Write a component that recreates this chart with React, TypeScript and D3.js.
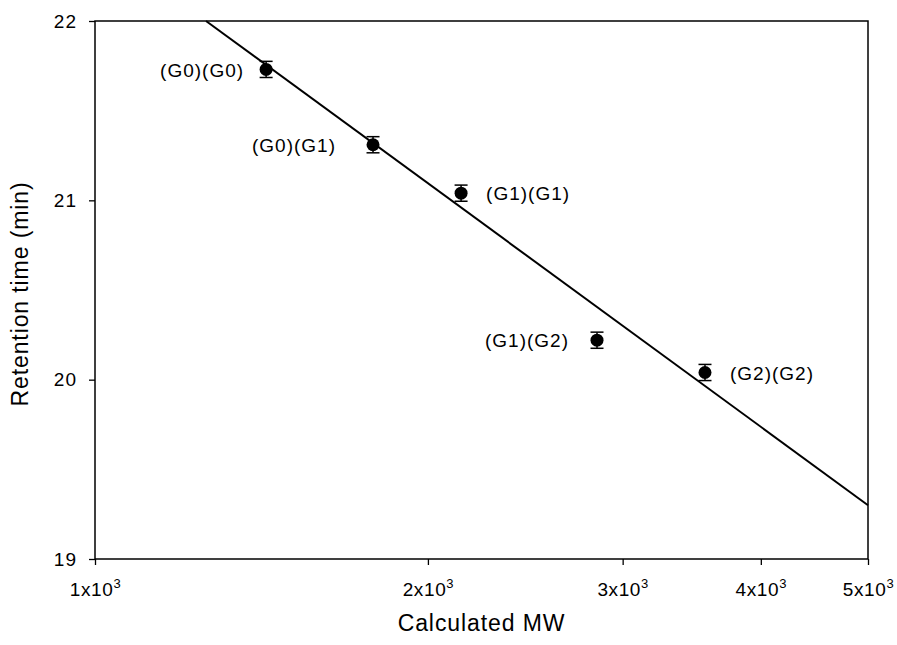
import { useEffect, useRef } from "react"
import * as d3 from "d3"

const labels = ["(G0)(G0)", "(G0)(G1)", "(G1)(G1)", "(G1)(G2)", "(G2)(G2)"]
const mw = [1428, 1784, 2143, 2844, 3561]
const retention = [21.73, 21.31, 21.04, 20.22, 20.04]
const errors = [0.045, 0.045, 0.045, 0.045, 0.045]
// label offset from the point (negative = to the left)
const labelDx = [-22, -37, 25, -28, 25]

const fitMw = [1260, 5000]
const fitRt = [22, 19.3]

const xTicks = [1000, 2000, 3000, 4000, 5000]
const yTicks = [19, 20, 21, 22]

export default function App() {
  const svgRef = useRef<SVGSVGElement>(null)

  useEffect(() => {
    if (!svgRef.current) return
    const width = 897
    const height = 645
    const margin = { top: 21, right: 29, bottom: 86, left: 95 }
    const w = width - margin.left - margin.right
    const h = height - margin.top - margin.bottom

    d3.select(svgRef.current).selectAll("*").remove()

    const svg = d3
      .select(svgRef.current)
      .attr("width", width)
      .attr("height", height)
      .style("font-family", "'Liberation Sans', Arial, sans-serif")

    const g = svg.append("g").attr("transform", `translate(${margin.left},${margin.top})`)

    const x = d3.scaleLog().domain([1000, 5000]).range([0, w])
    const y = d3.scaleLinear().domain([19, 22]).range([h, 0])

    // frame
    g.append("rect")
      .attr("width", w)
      .attr("height", h)
      .attr("fill", "none")
      .attr("stroke", "#000")
      .attr("stroke-width", 1.5)

    // x axis
    const xAxis = g
      .append("g")
      .attr("transform", `translate(0,${h})`)
      .call(d3.axisBottom(x).tickValues(xTicks).tickSize(6).tickFormat(() => ""))
    xAxis.select(".domain").remove()
    xAxis.selectAll("line").attr("stroke-width", 1.3)
    xAxis
      .selectAll(".tick")
      .append("text")
      .attr("y", 37)
      .attr("fill", "#000")
      .attr("text-anchor", "middle")
      .style("font-size", "19px")
      .style("letter-spacing", "0.6px")
      .each(function (d) {
        const t = d3.select(this)
        const mant = Math.round((d as number) / 1000)
        t.append("tspan").text(`${mant}x10`)
        t.append("tspan").attr("dy", -8).style("font-size", "13px").text("3")
      })

    // y axis
    const yAxis = g
      .append("g")
      .call(d3.axisLeft(y).tickValues(yTicks).tickSize(6).tickPadding(12).tickFormat(d3.format("d")))
    yAxis.select(".domain").remove()
    yAxis.selectAll("line").attr("stroke-width", 1.3)
    yAxis
      .selectAll("text")
      .style("font-size", "19px")
      .style("letter-spacing", "1px")
      .attr("fill", "#000")

    // axis titles
    svg
      .append("text")
      .attr("x", margin.left + w / 2)
      .attr("y", 631)
      .attr("text-anchor", "middle")
      .style("font-size", "23px")
      .style("letter-spacing", "0.9px")
      .text("Calculated MW")

    svg
      .append("text")
      .attr("transform", `translate(28,${margin.top + 273}) rotate(-90)`)
      .attr("text-anchor", "middle")
      .style("font-size", "23px")
      .style("letter-spacing", "0.9px")
      .text("Retention time (min)")

    // fit line
    const fitData = fitMw.map((m, i) => ({ m, r: fitRt[i] }))
    g.append("path")
      .datum(fitData)
      .attr("fill", "none")
      .attr("stroke", "#000")
      .attr("stroke-width", 2)
      .attr(
        "d",
        d3
          .line<{ m: number; r: number }>()
          .x((d) => x(d.m))
          .y((d) => y(d.r)),
      )

    const points = labels.map((label, i) => ({
      label,
      m: mw[i],
      r: retention[i],
      e: errors[i],
      dx: labelDx[i],
    }))

    // error bars
    const eb = g.selectAll(".err").data(points).enter().append("g").attr("class", "err")
    eb.append("line")
      .attr("x1", (d) => x(d.m))
      .attr("x2", (d) => x(d.m))
      .attr("y1", (d) => y(d.r + d.e))
      .attr("y2", (d) => y(d.r - d.e))
      .attr("stroke", "#000")
      .attr("stroke-width", 1.5)
    eb.append("line")
      .attr("x1", (d) => x(d.m) - 6.5)
      .attr("x2", (d) => x(d.m) + 6.5)
      .attr("y1", (d) => y(d.r + d.e))
      .attr("y2", (d) => y(d.r + d.e))
      .attr("stroke", "#000")
      .attr("stroke-width", 1.5)
    eb.append("line")
      .attr("x1", (d) => x(d.m) - 6.5)
      .attr("x2", (d) => x(d.m) + 6.5)
      .attr("y1", (d) => y(d.r - d.e))
      .attr("y2", (d) => y(d.r - d.e))
      .attr("stroke", "#000")
      .attr("stroke-width", 1.5)

    // points
    g.selectAll(".pt")
      .data(points)
      .enter()
      .append("circle")
      .attr("class", "pt")
      .attr("cx", (d) => x(d.m))
      .attr("cy", (d) => y(d.r))
      .attr("r", 6.5)
      .attr("fill", "#000")

    // labels
    g.selectAll(".lbl")
      .data(points)
      .enter()
      .append("text")
      .attr("class", "lbl")
      .attr("x", (d) => x(d.m) + d.dx)
      .attr("y", (d) => y(d.r))
      .attr("dy", "0.38em")
      .attr("text-anchor", (d) => (d.dx < 0 ? "end" : "start"))
      .style("font-size", "19px")
      .style("letter-spacing", "1px")
      .text((d) => d.label)
  }, [])

  return <svg ref={svgRef} style={{ display: "block", position: "absolute", left: 0, top: 0 }} />
}
